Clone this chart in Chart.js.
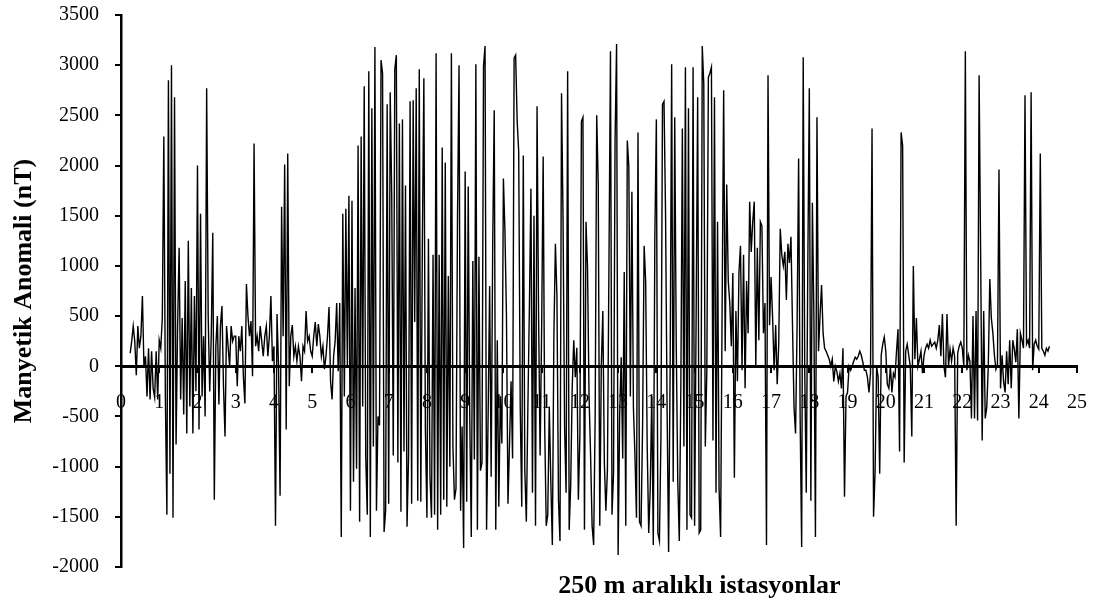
<!DOCTYPE html>
<html>
<head>
<meta charset="utf-8">
<script src="https://cdn.jsdelivr.net/npm/chart.js@4.4.1/dist/chart.umd.min.js"></script>
<style>
  body { margin: 0; background: #fff; }
  canvas { display: block; }
</style>
</head>
<body>
<canvas id="anomalyChart" width="1109" height="602"></canvas>
<script>
// Station sampling (station number, 250 m spacing)
const firstStation = 0.24;
const stationStep = 0.04;
// Magnetic anomaly values (nT), one row per station unit
const anomaly = [
    // 0
    130, 250, 400, 250, -90, 400, 180, 300, 700, 0, 100, -300, 180, -330, 150, -220, -310, 150, -330,
    // 1
    260, 180, 480, 2290, -300, -1480, 2850, -1070, 3000, -1510, 2680, -780, 400, 1180, -330, 480, -480, 850, -670, 1250, -400, 780, -670, 700, -250,
    // 2
    2000, -630, 1520, -300, 300, -500, 2770, 500, -250, 300, 1330, -1330, 200, 500, -380, 400, 600, -200, -700, 400, 200, 0, 400, 250, 300,
    // 3
    300, -200, 300, 150, 400, -100, -370, 820, 500, 300, 450, -100, 2220, 200, 300, 150, 400, 250, 100, 300, 400, 100, 300, 700, 50,
    // 4
    200, -1590, 520, 0, -1290, 1590, 300, 2010, -630, 2120, -200, 300, 410, 100, 200, 50, 200, 100, -150, 200, 150, 550, 250, 300, 150,
    // 5
    100, 300, 440, 200, 420, 300, 100, 200, -30, 100, 300, 590, -150, -330, 100, 250, 630, -50, 630, -1700, 1520, -300, 1570, 0, 1700,
    // 6
    -1440, 1650, -1150, 780, -1020, 2200, -1550, 2290, -400, 2790, -900, -1480, 2940, -1700, 2570, -800, 3180, -1440, -500, -590, 3050, 2920, -1650, -1440, 2610,
    // 7
    -1370, 2730, 1700, -890, 2960, 3100, -960, 2420, -1450, 2460, -850, 1800, -1600, -900, 2640, -1370, 2650, 440, 2770, -1340, 2960, -1350, 1200, 2870, -630,
    // 8
    -1510, 1270, -1100, -1510, 1110, -1480, 3120, -1630, 1110, -1480, 2180, -1330, 2030, -1400, 900, -1000, 3120, -800, -1330, -1220, 1500, 3000, -1440, -600, -1810,
    // 9
    1940, -1350, 1790, -500, -1700, 1050, -930, 3010, -1630, 1090, -1040, -960, 2990, 3190, -1630, -500, 800, -1100, 1200, 2550, -1630, 260, -1400, -300, -770,
    // 10
    1870, 1350, 500, -1370, -770, -150, -920, 3070, 3100, 2440, 2140, -400, -1400, 2100, -1040, -1550, -410, 600, 1770, -1260, 1500, -1590, 2590, 500, -890,
    // 11
    370, 2090, -600, -1590, -1480, -400, -1150, -1780, 300, 1220, 700, -1330, -1740, 2720, 1460, -600, -1260, 2940, -1630, -1180, -200, 260, -110, 185, -1330,
    // 12
    -700, 2440, 2480, -1630, 1440, 980, -300, -890, -1590, -1780, -480, 2500, 1810, -1590, 0, 550, -960, -1440, -1040, 1000, 3140, -1480, -1070, 2250, 3210,
    // 13
    -1880, -500, 90, -920, 940, -1590, 2250, 1990, -300, 1740, -410, -890, -1510, 2330, -1550, -1590, -590, 1200, 850, -780, -1660, -1220, -300, -1780, 1270,
    // 14
    2460, -1660, -1740, -700, 2610, 2640, 1530, -400, -1850, -40, 3010, -1150, 2480, 220, -1150, -1740, -220, 2370, -800, 2980, -1630, 2570, -1480, -1510, 2980,
    // 15
    -1590, 500, 2680, -1660, -1630, 3190, 2810, -800, -40, 2880, 2920, 2980, -740, 2680, -1260, 1440, -1220, -1700, 600, 2750, 150, 1810, 850, 630, 200,
    // 16
    930, -1110, 550, -150, 940, 1200, -40, 1110, -220, 850, 330, 1640, 1140, 1440, 1640, 0, 1180, 260, 1440, 1400, 330, 630, -1780, 2900, 410,
    // 17
    890, 480, -40, 410, -180, 220, 1370, 1110, 1000, 1140, 660, 1220, 1030, 1290, 410, -410, -670, 400, 2070, -520, -1800, 3080, -40, -1260, 1000,
    // 18
    2770, -1340, 1630, 480, -1700, 2480, 150, 500, 810, 330, 180, 150, 110, 70, 0, 70, -150, 0, -50, -150, -70, -220, 180, -1300, -300,
    // 19
    -260, 0, -40, 0, 50, 90, 70, 100, 150, 110, 40, -40, -40, -110, -260, -70, 2370, -1500, -1050, 0, -110, -1070, 110, 220, 290,
    // 20
    150, -180, -220, 0, -260, -70, -110, 150, 370, -850, 2330, 2200, -960, 150, 220, 110, 0, -700, 1000, 70, 480, 0, 70, 150, -70,
    // 21
    110, 180, 220, 180, 260, 200, 220, 240, 180, 260, 410, 100, 520, 0, -110, 520, 0, 170, 50, 180, 100, -1590, 130, 200, 240,
    // 22
    180, 0, 3140, -40, 110, 50, -520, 500, -520, 550, -540, 2900, 1110, -740, 550, -520, -410, 0, 870, 480, 330, 110, -30, 20, 1960,
    // 23
    -220, 110, -150, -260, 150, -180, 260, -220, 260, 170, 40, 370, -520, 330, 260, 180, 2700, 220, 260, 180, 2730, -40, 220, 260, 200,
    // 24
    170, 2120, 180, 150, 110, 180, 150, 200,
];
// Axis ranges and tick steps
const xRange = [0, 25];
const yRange = [-2000, 3500];
const yStep = 500;

const serif = "'Liberation Serif', 'Times New Roman', serif";
const points = anomaly.map((v, i) => ({ x: firstStation + i * stationStep, y: v }));

// x axis title sits under the plot, drawn by hand
const xTitlePlugin = {
    id: "xTitle",
    afterDraw(chart) {
        const { ctx, chartArea } = chart;
        ctx.save();
        ctx.font = "bold 26px " + serif;
        ctx.fillStyle = "#000";
        ctx.textAlign = "center";
        ctx.textBaseline = "alphabetic";
        const cx = chartArea.left + (chartArea.right - chartArea.left) * 0.605;
        ctx.fillText("250 m aralıklı istasyonlar", cx, 593);
        ctx.restore();
    },
};

const ctx = document.getElementById("anomalyChart").getContext("2d");
const anomalyChart = new Chart(ctx, {
    type: "line",
    data: {
        datasets: [
            {
                data: points,
                borderColor: "#000",
                borderWidth: 1.4,
                pointRadius: 0,
                tension: 0,
                fill: false,
            },
        ],
    },
    options: {
        responsive: false,
        animation: false,
        layout: {
            padding: { left: 0, top: 15, right: 32, bottom: 35 },
        },
        scales: {
            x: {
                type: "linear",
                min: xRange[0],
                max: xRange[1],
                position: { y: 0 },
                ticks: {
                    stepSize: 1,
                    color: "#000",
                    padding: 19,
                    font: { family: serif, size: 20 },
                    callback: (v) => String(v),
                },
                grid: {
                    drawOnChartArea: false,
                    tickLength: 5,
                    color: "#000",
                    lineWidth: 2,
                },
                border: { color: "#000", width: 3 },
            },
            y: {
                min: yRange[0],
                max: yRange[1],
                ticks: {
                    stepSize: yStep,
                    color: "#000",
                    padding: 16,
                    font: { family: serif, size: 20 },
                    callback: (v) => String(v),
                },
                grid: {
                    drawOnChartArea: false,
                    tickLength: 6,
                    color: "#000",
                    lineWidth: 2,
                },
                border: { color: "#000", width: 2.5 },
                title: {
                    display: true,
                    text: "Manyetik Anomali (nT)",
                    color: "#000",
                    padding: { top: 9, bottom: 0 },
                    font: { family: serif, size: 26, weight: "bold" },
                },
                afterFit(scale) {
                    scale.width = 121;
                    // let the layout padding alone decide the plot's top and bottom
                    scale.paddingTop = 0;
                    scale.paddingBottom = 0;
                },
            },
        },
        plugins: {
            legend: { display: false },
            tooltip: { enabled: false },
        },
    },
    plugins: [xTitlePlugin],
});
</script>
</body>
</html>
